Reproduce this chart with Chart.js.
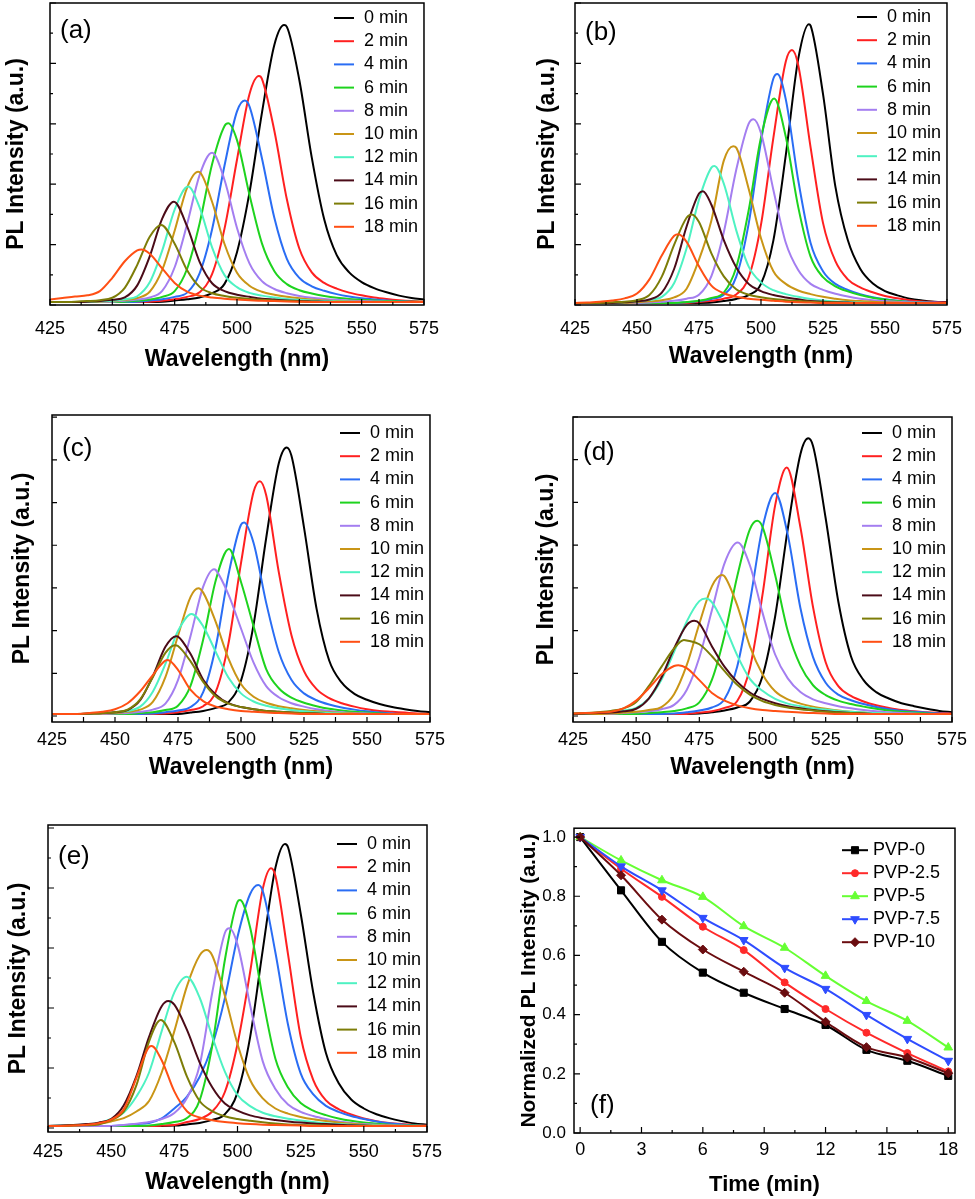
<!DOCTYPE html>
<html>
<head>
<meta charset="utf-8">
<script src="https://cdn.jsdelivr.net/npm/chart.js@4.4.0/dist/chart.umd.min.js"></script>
<style>
  body { margin: 0; background: #fff; width: 975px; height: 1199px; position: relative; overflow: hidden; }
  canvas { position: absolute; }
</style>
</head>
<body>
<canvas id="ca" width="452" height="371" style="left:0;top:0"></canvas>
<canvas id="cb" width="445" height="368" style="left:530px;top:0"></canvas>
<canvas id="cc" width="452" height="379" style="left:0;top:400px"></canvas>
<canvas id="cd" width="445" height="379" style="left:530px;top:400px"></canvas>
<canvas id="ce" width="452" height="384" style="left:0;top:810px"></canvas>
<canvas id="cf" width="475" height="386" style="left:500px;top:810px"></canvas>
<script>
// wavelength grid (nm) shared by all spectra
const wavelengths = [425,430,435,440,445,450,455,460,465,470,475,480,485,490,495,500,505,510,515,520,525,530,535,540,545,550,555,560,565,570,575];
const timeLabels = ['0 min','2 min','4 min','6 min','8 min','10 min','12 min','14 min','16 min','18 min'];
const timeColors = ['#000000','#ff2020','#2a6df4','#1ed31e','#a47ef0','#c99516','#4ef2c2','#4b0b18','#7d7d08','#ff4f14'];

// panel (a): intensity on the grid, plus the apex [nm, value] of each curve
const panelA = [
  [1,1,1,1,1,1,1,1,1,1.1,1.5,1.9,2.5,3.9,7.0,17.5,37.2,63.6,86.2,92.1,74.5,48.8,28.3,16.5,10.8,7.6,5.6,4.2,3.1,2.3,1.8],
  [1,1,1,1,1,1,1,1,1.1,1.4,1.9,2.7,4.2,10.2,25.3,48.1,69.8,74.9,57.6,35.0,18.7,10.8,7.3,5.4,4.1,3.2,2.5,2.0,1.6,1.3,1.1],
  [1,1,1,1,1,1,1,1.1,1.5,1.9,2.7,4.1,10.5,25.0,46.2,64.1,65.8,48.6,28.8,15.3,9.0,6.2,4.7,3.6,2.8,2.2,1.8,1.5,1.3,1.1,1.0],
  [1,1,1,1,1,1,1.1,1.4,1.8,2.7,4.6,12.0,27.0,46.6,59.3,54.6,36.5,20.4,11.2,6.9,4.9,3.8,3.0,2.4,2.0,1.7,1.5,1.3,1.2,1.1,1.0],
  [1,1,1,1,1,1.1,1.4,1.8,2.5,4.7,12.5,26.8,43.0,50.4,41.4,25.5,13.8,7.9,5.3,3.9,3.0,2.4,2.0,1.7,1.5,1.3,1.2,1.1,1.0,1.0,1.0],
  [1,1,1,1,1.1,1.3,1.7,2.3,4.4,11.6,24.6,38.9,44.0,34.2,20.2,10.7,6.4,4.4,3.4,2.7,2.2,1.8,1.5,1.3,1.2,1.1,1.0,1.0,1.0,1.0,1.0],
  [1,1,1,1,1.2,1.4,1.9,2.9,7.5,18.0,31.6,39.1,32.3,19.1,9.9,5.9,4.0,3.1,2.5,2.0,1.7,1.5,1.3,1.2,1.1,1,1,1,1,1,1],
  [1,1,1,1.1,1.3,1.7,2.5,6.5,16.1,28.6,34.1,26.0,14.3,7.2,4.6,3.4,2.7,2.1,1.8,1.5,1.3,1.2,1.1,1,1,1,1,1,1,1,1],
  [1,1,1.1,1.3,1.6,2.4,5.7,13.3,22.6,26.4,20.3,11.5,6.0,3.9,3.0,2.4,2.0,1.7,1.5,1.3,1.2,1.1,1,1,1,1,1,1,1,1,1],
  [1.8,2.3,2.8,3.2,4.6,9.0,14.5,18.1,17.0,12.1,7.3,4.4,3.1,2.5,2.1,1.8,1.6,1.4,1.3,1.2,1.1,1,1,1,1,1,1,1,1,1,1]
];
const peaksA = [[518.9,92.7],[508.8,75.8],[503.1,67.7],[496.5,60.2],[490.0,50.4],[484.4,44.1],[480.4,39.2],[474.7,34.2],[469.6,26.5],[461.7,18.4]];

// panel (b)
const panelB = [
  [0.7,0.7,0.7,0.7,0.7,0.7,0.7,0.7,0.7,0.7,0.7,0.8,1.3,2.0,3.3,7.0,21.4,49.6,81.4,92.5,69.9,39.2,21.5,12.0,7.2,4.6,3.2,2.1,1.5,1.1,0.9],
  [0.7,0.7,0.7,0.7,0.7,0.7,0.7,0.7,0.7,0.7,1.0,1.4,2.1,3.5,9.1,26.6,55.4,80.6,79.5,52.2,27.2,14.5,8.5,5.8,4.2,3.0,2.2,1.6,1.2,1.0,0.8],
  [0.7,0.7,0.7,0.7,0.7,0.7,0.7,0.7,0.7,0.9,1.3,2.0,3.4,9.3,26.8,54.2,75.0,68.1,41.4,20.5,11.2,7.0,5.0,3.6,2.6,1.9,1.4,1.1,0.9,0.8,0.7],
  [0.7,0.7,0.7,0.7,0.7,0.7,0.7,0.7,0.7,1.0,1.4,2.3,4.1,12.4,31.2,55.5,68.3,55.7,32.5,16.0,9.2,6.2,4.5,3.3,2.4,1.8,1.3,1.0,0.8,0.7,0.7],
  [0.7,0.7,0.7,0.7,0.7,0.7,0.8,1.1,1.4,2.1,3.4,9.6,24.1,44.7,60.0,56.9,38.1,20.6,11.6,7.0,5.0,3.7,2.8,2.1,1.6,1.3,1.1,0.9,0.8,0.7,0.7],
  [0.7,0.7,0.7,0.7,0.7,0.9,1.2,1.6,2.5,5.4,15.0,28.0,47.8,52.1,38.6,22.1,11.2,7.0,4.8,3.6,2.7,2.1,1.6,1.3,1.1,0.9,0.8,0.7,0.7,0.7,0.7],
  [0.7,0.7,0.7,0.7,0.9,1.2,1.7,2.7,7.3,18.8,34.9,45.5,40.2,24.8,12.8,7.5,4.9,3.6,2.7,2.0,1.5,1.2,1.0,0.8,0.7,0.7,0.7,0.7,0.7,0.7,0.7],
  [0.7,0.7,0.7,0.7,0.9,1.2,1.8,4.1,12.0,26.0,36.9,33.2,21.5,12.5,7.0,4.6,3.3,2.5,1.9,1.3,1.1,0.9,0.8,0.7,0.7,0.7,0.7,0.7,0.7,0.7,0.7],
  [0.7,0.7,0.7,0.9,1.1,1.6,3.3,9.4,20.0,28.9,27.5,17.1,9.5,5.2,3.4,2.6,2.0,1.6,1.3,1.1,0.9,0.8,0.7,0.7,0.7,0.7,0.7,0.7,0.7,0.7,0.7],
  [0.7,0.8,1.1,1.5,2.2,3.8,8.5,16.4,22.9,20.9,12.8,6.4,3.9,2.7,2.1,1.7,1.4,1.1,0.9,0.8,0.7,0.7,0.7,0.7,0.7,0.7,0.7,0.7,0.7,0.7,0.7]
];
const peaksB = [[519.3,93.0],[512.5,84.4],[506.6,76.5],[505.3,68.4],[497.0,61.5],[488.8,52.6],[481.2,46.0],[476.6,37.7],[472.1,30.0],[466.7,23.4]];

// panel (c)
const panelC = [
  [0.5,0.5,0.5,0.5,0.5,0.5,0.5,0.5,0.5,0.5,0.5,0.8,1.2,1.9,3.2,8.3,21.4,41.7,59.2,61.0,44.2,25.1,13.0,7.8,5.2,3.8,2.8,2.1,1.6,1.2,0.9],
  [0.5,0.5,0.5,0.5,0.5,0.5,0.5,0.5,0.5,0.6,0.9,1.4,2.3,5.7,16.9,35.8,52.5,51.7,33.7,19.0,10.5,6.3,4.2,3.0,2.2,1.6,1.2,1.0,0.8,0.6,0.5],
  [0.5,0.5,0.5,0.5,0.5,0.5,0.5,0.5,0.6,0.9,1.3,2.1,5.6,16.3,33.0,44.8,40.5,26.5,15.0,8.5,5.3,3.7,2.7,2.0,1.5,1.1,0.8,0.6,0.5,0.5,0.5],
  [0.5,0.5,0.5,0.5,0.5,0.5,0.5,0.7,0.9,1.4,2.4,7.1,17.9,31.8,39.0,31.4,21.0,11.0,6.5,4.3,3.1,2.3,1.7,1.3,1.0,0.8,0.6,0.5,0.5,0.5,0.5],
  [0.5,0.5,0.5,0.5,0.5,0.6,0.7,1.0,1.5,2.9,8.4,18.8,30.3,34.2,28.5,20.5,12.5,7.0,4.4,3.0,2.2,1.6,1.2,0.9,0.7,0.6,0.5,0.5,0.5,0.5,0.5],
  [0.5,0.5,0.5,0.5,0.6,0.7,1.0,1.5,3.3,9.1,18.8,27.9,28.9,22.0,13.5,7.5,4.5,3.1,2.3,1.8,1.4,1.1,0.9,0.7,0.6,0.5,0.5,0.5,0.5,0.5,0.5],
  [0.5,0.5,0.5,0.6,0.7,0.9,1.2,2.2,5.7,12.2,19.9,23.8,21.0,15.0,9.0,5.3,3.4,2.4,1.8,1.4,1.1,0.9,0.7,0.6,0.5,0.5,0.5,0.5,0.5,0.5,0.5],
  [0.5,0.5,0.5,0.6,0.7,0.9,1.4,3.7,9.3,16.2,18.6,14.5,8.5,5.0,3.0,2.1,1.6,1.2,1.0,0.8,0.7,0.6,0.5,0.5,0.5,0.5,0.5,0.5,0.5,0.5,0.5],
  [0.5,0.5,0.5,0.6,0.7,0.9,1.5,3.9,9.1,14.8,16.4,12.8,8.0,4.6,2.9,2.1,1.6,1.2,1.0,0.8,0.7,0.6,0.5,0.5,0.5,0.5,0.5,0.5,0.5,0.5,0.5],
  [0.5,0.5,0.5,0.7,1.0,1.6,3.0,5.8,9.6,13.0,10.8,6.1,3.5,2.2,1.6,1.2,1.0,0.8,0.7,0.6,0.5,0.5,0.5,0.5,0.5,0.5,0.5,0.5,0.5,0.5,0.5]
];
const peaksC = [[518.1,62.9],[507.5,55.0],[501.2,45.3],[495.2,39.1],[489.3,34.4],[483.1,29.9],[480.4,23.9],[474.2,18.7],[473.8,16.6],[470.9,13.1]];

// panel (d)
const panelD = [
  [0.5,0.5,0.5,0.5,0.5,0.5,0.5,0.5,0.5,0.5,0.6,0.9,1.3,2.0,3.4,9.3,23.3,43.8,61.3,63.2,46.3,26.8,14.0,8.4,5.6,4.1,3.0,2.3,1.7,1.2,0.9],
  [0.5,0.5,0.5,0.5,0.5,0.5,0.5,0.5,0.5,0.5,0.8,1.1,1.9,3.5,11.2,28.4,49.3,58.1,44.2,25.5,12.6,7.0,4.7,3.4,2.5,1.9,1.4,1.1,0.9,0.7,0.6],
  [0.5,0.5,0.5,0.5,0.5,0.5,0.5,0.5,0.6,0.9,1.3,2.0,4.0,11.6,26.7,44.1,52.2,42.4,25.3,13.8,7.8,5.0,3.7,2.8,2.1,1.6,1.2,1.0,0.8,0.6,0.5],
  [0.5,0.5,0.5,0.5,0.5,0.5,0.7,0.9,1.2,1.8,3.2,8.5,18.9,32.7,43.7,44.3,33.0,19.9,11.8,7.2,4.9,3.6,2.8,2.2,1.7,1.3,1.0,0.8,0.6,0.5,0.5],
  [0.5,0.5,0.5,0.5,0.7,0.9,1.1,1.6,2.6,6.1,13.7,24.8,35.8,40.5,35.3,24.2,14.4,8.8,5.6,3.9,3.0,2.3,1.8,1.4,1.1,0.9,0.7,0.6,0.5,0.5,0.5],
  [0.5,0.5,0.5,0.6,0.8,1.0,1.4,2.1,5.1,11.9,21.6,30.4,32.7,25.9,16.3,9.8,5.8,3.9,2.9,2.2,1.7,1.3,1.0,0.8,0.6,0.5,0.5,0.5,0.5,0.5,0.5],
  [0.6,0.6,0.8,0.9,1.3,1.9,4.1,8.5,15.0,22.1,26.9,26.6,21.1,14.2,8.7,5.9,4.0,2.9,2.3,1.8,1.5,1.2,1.0,0.8,0.7,0.6,0.5,0.5,0.5,0.5,0.5],
  [0.5,0.6,0.7,0.8,1.1,1.7,4.1,9.0,15.8,21.3,21.7,16.3,11.5,8.0,5.5,4.0,3.0,2.3,1.8,1.4,1.1,0.9,0.7,0.6,0.5,0.5,0.5,0.5,0.5,0.5,0.5],
  [0.6,0.7,0.9,1.2,1.8,3.3,7.0,11.5,15.8,17.7,16.8,14.0,10.5,7.3,5.0,3.5,2.6,2.0,1.6,1.3,1.0,0.8,0.7,0.6,0.5,0.5,0.5,0.5,0.5,0.5,0.5],
  [0.6,0.7,0.8,1.0,1.8,3.6,6.5,9.7,11.7,11.2,8.4,5.4,3.6,2.5,1.8,1.4,1.2,1.0,0.8,0.7,0.6,0.5,0.5,0.5,0.5,0.5,0.5,0.5,0.5,0.5,0.5]
];
const peaksD = [[518.1,65.0],[509.6,58.2],[505.0,52.2],[497.9,45.7],[490.2,40.6],[483.9,33.0],[477.5,27.5],[473.0,22.3],[468.9,17.8],[466.7,11.9]];

// panel (e)
const panelE = [
  [0.7,0.7,0.7,0.7,0.7,0.7,0.7,0.7,0.7,0.7,0.8,1.2,1.7,2.7,4.6,11.8,30.3,59.4,86.7,93.6,71.5,45.0,25.0,15.0,9.5,6.5,4.6,3.3,2.3,1.5,1.1],
  [0.7,0.7,0.7,0.7,0.7,0.7,0.7,0.7,0.7,0.8,1.0,2.0,3.0,5.5,12.0,28.0,52.0,79.7,84.1,57.9,30.5,16.0,9.2,6.3,4.5,3.2,2.3,1.7,1.3,1.0,0.8],
  [0.7,0.7,0.7,0.7,0.7,0.7,0.9,1.3,1.7,3.2,6.5,10.5,17.0,27.5,43.3,63.7,78.0,79.0,58.5,34.4,18.2,11.2,7.4,5.4,4.0,3.0,2.2,1.6,1.2,0.9,0.7],
  [0.7,0.7,0.7,0.7,0.7,0.7,0.7,0.7,0.8,1.3,2.0,3.3,9.2,27.4,56.0,75.4,66.8,43.2,23.1,13.5,8.3,5.8,4.3,3.2,2.4,1.8,1.4,1.1,0.9,0.8,0.7],
  [0.7,0.7,0.7,0.7,0.7,0.7,1.0,1.4,2.0,3.0,5.0,10.0,20.8,45.1,65.0,61.2,40.9,22.2,13.0,7.8,5.4,4.0,3.0,2.2,1.7,1.3,1.1,0.9,0.8,0.7,0.7],
  [0.7,0.7,0.9,1.1,1.4,2.2,3.3,5.5,9.0,18.5,32.3,47.3,57.5,57.5,44.1,28.0,16.0,9.9,6.5,4.8,3.7,2.9,2.3,1.8,1.4,1.1,0.9,0.8,0.7,0.7,0.7],
  [0.7,0.8,0.9,1.2,1.6,3.0,5.2,10.5,18.5,32.3,45.2,50.3,43.5,30.5,18.8,11.0,7.3,5.1,3.9,3.1,2.5,2.0,1.6,1.3,1.1,0.9,0.8,0.7,0.7,0.7,0.7],
  [0.7,0.8,1.0,1.3,1.8,3.0,7.6,17.3,30.4,40.6,41.1,32.7,21.9,13.6,8.2,5.8,4.2,3.3,2.7,2.2,1.8,1.5,1.3,1.1,0.9,0.8,0.7,0.7,0.7,0.7,0.7],
  [0.7,0.7,0.8,0.9,1.2,2.6,5.5,14.3,28.9,35.9,28.6,17.1,9.0,5.6,3.9,3.0,2.4,1.9,1.5,1.2,1.0,0.9,0.8,0.7,0.7,0.7,0.7,0.7,0.7,0.7,0.7],
  [0.7,0.7,0.8,1.1,1.6,2.8,6.3,16.7,27.0,22.6,12.2,5.6,3.5,2.6,2.0,1.6,1.3,1.1,1.0,0.9,0.8,0.7,0.7,0.7,0.7,0.7,0.7,0.7,0.7,0.7,0.7]
];
const peaksE = [[518.8,94.7],[513.3,86.6],[508.2,81.0],[501.0,76.0],[496.8,66.6],[487.8,59.3],[479.9,50.4],[472.6,42.3],[469.6,36.0],[466.0,27.3]];

// panel (f): normalized PL intensity vs time
const timeMin = [0,2,4,6,8,10,12,14,16,18];
const pvp0  = [1.0,0.82,0.646,0.542,0.474,0.419,0.365,0.281,0.244,0.193];
const pvp25 = [1.0,0.893,0.798,0.697,0.618,0.509,0.419,0.339,0.27,0.208];
const pvp5  = [1.0,0.921,0.854,0.798,0.699,0.626,0.531,0.446,0.379,0.289];
const pvp75 = [1.0,0.901,0.82,0.727,0.652,0.558,0.487,0.399,0.318,0.244];
const pvp10 = [1.0,0.871,0.721,0.62,0.545,0.474,0.376,0.29,0.255,0.202];

const FONT = 'Arial, "Liberation Sans", sans-serif';
Chart.defaults.font.family = FONT;
Chart.defaults.color = '#000';

// box, inward ticks and the panel letter
const framePlugin = {
  id: 'frame',
  afterDraw(chart, args, o) {
    const { ctx, chartArea: a } = chart;
    const xs = chart.scales.x, ys = chart.scales.y;
    ctx.save();
    ctx.strokeStyle = '#000';
    ctx.lineWidth = 1.2;
    ctx.beginPath();
    const mark = (scale, t, horiz) => {
      for (let k = 0; ; k++) {
        const v = t[0] + k * t[1];
        if (v > scale.max + 1e-9) break;
        const p = scale.getPixelForValue(v);
        const r = v / t[2];
        const len = Math.abs(r - Math.round(r)) < 1e-6 ? o.len[0] : o.len[1];
        if (horiz) { ctx.moveTo(p, a.bottom); ctx.lineTo(p, a.bottom - len); }
        else { ctx.moveTo(a.left, p); ctx.lineTo(a.left + len, p); }
      }
    };
    mark(xs, o.x, true);
    mark(ys, o.y, false);
    ctx.stroke();
    ctx.lineWidth = 1.5;
    ctx.strokeRect(a.left, a.top, a.right - a.left, a.bottom - a.top);
    ctx.font = '26px ' + FONT;
    ctx.fillStyle = '#000';
    ctx.textBaseline = 'middle';
    ctx.textAlign = 'left';
    const ty = o.tag[2] < 0 ? a.bottom + o.tag[2] : a.top + o.tag[2];
    ctx.fillText(o.tag[0], a.left + o.tag[1], ty);
    ctx.restore();
  }
};

// legend drawn inside the plot, top right; line offsets are measured back from the text
const keyPlugin = {
  id: 'key',
  afterDraw(chart, args, o) {
    const { ctx, chartArea: a } = chart;
    ctx.save();
    ctx.font = o.size + 'px ' + FONT;
    ctx.textBaseline = 'middle';
    ctx.textAlign = 'left';
    chart.data.datasets.forEach((ds, i) => {
      const y = a.top + o.top + i * o.gap;
      const tx = a.right - o.right;
      ctx.strokeStyle = ds.borderColor;
      ctx.lineWidth = 2;
      ctx.beginPath();
      ctx.moveTo(tx - o.line[0], y);
      ctx.lineTo(tx - o.line[1], y);
      ctx.stroke();
      if (o.marker && Chart.helpers && Chart.helpers.drawPoint) {
        ctx.fillStyle = ds.borderColor;
        ctx.lineWidth = 1;
        Chart.helpers.drawPoint(ctx, { pointStyle: ds.pointStyle, rotation: ds.pointRotation || 0, radius: ds.pointRadius, borderWidth: 1 }, tx - (o.line[0] + o.line[1]) / 2, y);
      }
      ctx.fillStyle = '#000';
      ctx.fillText(ds.label, tx, y);
    });
    ctx.restore();
  }
};

function withPeak(vals, peak) {
  const pts = [];
  wavelengths.forEach((w, i) => { if (Math.abs(w - peak[0]) > 0.5) pts.push({ x: w, y: vals[i] }); });
  pts.push({ x: peak[0], y: peak[1] });
  pts.sort((p, q) => p.x - q.x);
  return pts;
}

function spectraChart(id, curves, peaks, c) {
  new Chart(document.getElementById(id), {
    type: 'line',
    data: {
      datasets: curves.map((vals, i) => ({
        label: timeLabels[i],
        data: withPeak(vals, peaks[i]),
        borderColor: timeColors[i],
        borderWidth: 2,
        pointRadius: 0,
        cubicInterpolationMode: 'monotone',
        order: curves.length - i
      }))
    },
    options: {
      responsive: false,
      animation: false,
      layout: { padding: { top: c.pad[0], right: c.pad[1], left: 0, bottom: 0 } },
      plugins: {
        legend: { display: false },
        tooltip: { enabled: false },
        frame: { x: [425, 12.5, 25], y: [0, 10, c.major], len: c.len, tag: c.tag },
        key: { size: 18, top: c.keyTop, gap: 23.2, right: 60, line: [30, 10] }
      },
      scales: {
        x: {
          type: 'linear', min: 425, max: 575,
          grid: { display: false, drawTicks: false }, border: { display: false },
          ticks: { stepSize: 25, autoSkip: false, maxRotation: 0, includeBounds: false, padding: c.tickPad, font: { size: 18 } },
          title: { display: true, text: 'Wavelength (nm)', font: { size: 23, weight: 'bold', lineHeight: 1 }, padding: 0 },
          afterFit: s => { s.height = c.xh; }
        },
        y: {
          min: c.y[0], max: c.y[1],
          grid: { display: false, drawTicks: false }, border: { display: false },
          ticks: { display: false },
          title: { display: true, text: 'PL Intensity (a.u.)', font: { size: 23, weight: 'bold', lineHeight: 1 }, padding: { top: c.tpad, bottom: 0 } },
          afterFit: s => { s.width = c.yw; }
        }
      }
    },
    plugins: [framePlugin, keyPlugin]
  });
}

spectraChart('ca', panelA, peaksA, { pad: [3, 23], xh: 66, yw: 50, tpad: 5, tickPad: 13, y: [0, 100], major: 20, len: [6, 3], tag: ['(a)', 10, 28], keyTop: 15 });
spectraChart('cb', panelB, peaksB, { pad: [3, 20], xh: 63, yw: 45, tpad: 6, tickPad: 13, y: [0, 100], major: 20, len: [6, 3], tag: ['(b)', 10, 30], keyTop: 14 });
spectraChart('cc', panelC, peaksC, { pad: [15, 22], xh: 57, yw: 52, tpad: 11, tickPad: 7, y: [-1.4, 70.5], major: 10, len: [5, 5], tag: ['(c)', 10, 34], keyTop: 18 });
spectraChart('cd', panelD, peaksD, { pad: [17, 23], xh: 57, yw: 43, tpad: 5, tickPad: 7, y: [-1.4, 70.0], major: 10, len: [5, 5], tag: ['(d)', 10, 36], keyTop: 16 });
spectraChart('ce', panelE, peaksE, { pad: [15, 25], xh: 62, yw: 48, tpad: 7, tickPad: 9, y: [-1.33, 101], major: 20, len: [6, 3], tag: ['(e)', 10, 32], keyTop: 19 });

// panel (f)
const pvpSeries = [
  { label: 'PVP-0', vals: pvp0, color: '#000000', style: 'rect', r: 5, rot: 0 },
  { label: 'PVP-2.5', vals: pvp25, color: '#ff2a2a', style: 'circle', r: 3.5, rot: 0 },
  { label: 'PVP-5', vals: pvp5, color: '#66ff33', style: 'triangle', r: 5, rot: 0 },
  { label: 'PVP-7.5', vals: pvp75, color: '#2f4dff', style: 'triangle', r: 5, rot: 180 },
  { label: 'PVP-10', vals: pvp10, color: '#6b0d10', style: 'rectRot', r: 4.5, rot: 0 }
];
new Chart(document.getElementById('cf'), {
  type: 'line',
  data: {
    datasets: pvpSeries.map((s, i) => ({
      label: s.label,
      data: timeMin.map((t, k) => ({ x: t, y: s.vals[k] })),
      borderColor: s.color,
      backgroundColor: s.color,
      pointBackgroundColor: s.color,
      pointBorderColor: s.color,
      pointStyle: s.style,
      pointRotation: s.rot,
      pointRadius: s.r,
      pointBorderWidth: 1,
      borderWidth: 2,
      cubicInterpolationMode: 'monotone',
      order: pvpSeries.length - i
    }))
  },
  options: {
    responsive: false,
    animation: false,
    layout: { padding: { top: 18, right: 20, left: 0, bottom: 0 } },
    plugins: {
      legend: { display: false },
      tooltip: { enabled: false },
      frame: { x: [0, 1.5, 3], y: [0, 0.1, 0.2], len: [6, 3], tag: ['(f)', 16, -27] },
      key: { size: 18, top: 22, gap: 23, right: 82, line: [31, 5], marker: true }
    },
    scales: {
      x: {
        type: 'linear', min: -0.3, max: 18.33,
        grid: { display: false, drawTicks: false }, border: { display: false },
        ticks: { stepSize: 3, autoSkip: false, maxRotation: 0, includeBounds: false, padding: 6, font: { size: 18 } },
        title: { display: true, text: 'Time (min)', font: { size: 22, weight: 'bold', lineHeight: 1 }, padding: 0 },
        afterFit: s => { s.height = 63; }
      },
      y: {
        min: 0, max: 1.03,
        grid: { display: false, drawTicks: false }, border: { display: false },
        ticks: { stepSize: 0.2, includeBounds: false, padding: 8, font: { size: 17 }, callback: v => v.toFixed(1) },
        title: { display: true, text: 'Normalized PL Intensity (a.u.)', font: { size: 21, weight: 'bold', lineHeight: 1 }, padding: { top: 19, bottom: 0 } },
        afterFit: s => { s.width = 74; }
      }
    }
  },
  plugins: [framePlugin, keyPlugin]
});
</script>
</body>
</html>
